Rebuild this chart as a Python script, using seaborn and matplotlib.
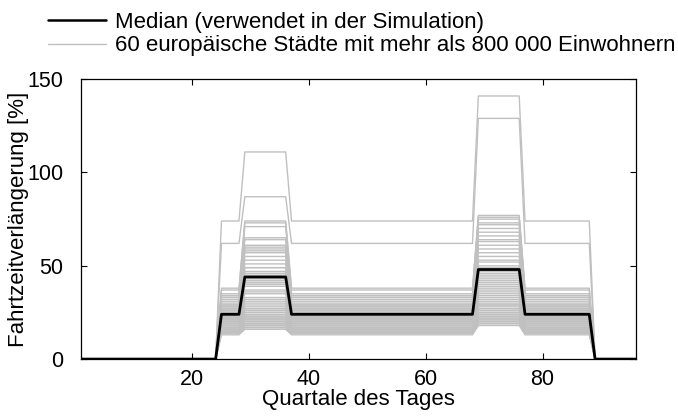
import numpy as np
import pandas as pd
import matplotlib
matplotlib.use("Agg")
import matplotlib.pyplot as plt
import seaborn as sns
from matplotlib.lines import Line2D

# Quarter-hours of the day
quarters = list(range(1, 97))

# Per-city congestion levels [%]: base level, morning peak, evening peak
city_base = [74, 62,
             38, 37, 35, 34, 34, 33, 32, 31, 30, 29, 29, 28, 28, 27, 27, 27, 26, 26,
             26, 25, 25, 25, 24, 24, 24, 24, 23, 23, 23, 22, 22, 22, 21, 21, 21, 20,
             20, 20, 19, 19, 19, 18, 18, 18, 17, 17, 17, 16, 16, 16, 16, 15, 15, 15,
             14, 14, 14, 13]
city_morning = [111, 87,
                74, 73, 71, 65, 64, 61, 60, 59, 58, 57, 55, 53, 51, 49, 49, 47, 46, 45,
                44, 43, 42, 41, 41, 40, 39, 37, 36, 35, 33, 32, 31, 30, 29, 28, 27, 27,
                26, 25, 25, 24, 23, 23, 22, 22, 21, 21, 20, 20, 19, 19, 19, 18, 18, 18,
                17, 17, 16, 16]
city_evening = [141, 129,
                77, 76, 75, 73, 72, 70, 68, 66, 64, 63, 61, 59, 57, 55, 53, 52, 50, 49,
                48, 47, 46, 45, 44, 43, 42, 41, 40, 39, 38, 37, 36, 35, 34, 33, 32, 31,
                30, 29, 29, 28, 27, 27, 26, 25, 25, 24, 24, 23, 23, 22, 22, 21, 21, 20,
                20, 19, 19, 18]

# Median profile used in the simulation
median_base = 24
median_morning = 44
median_evening = 48

# Time windows (quarter indices)
day_start, morning_start, morning_end = 25, 29, 36
evening_start, evening_end, day_end = 69, 76, 88


def profile(base, morning, evening):
    vals = []
    for q in quarters:
        if q < day_start or q > day_end:
            vals.append(0)
        elif morning_start <= q <= morning_end:
            vals.append(morning)
        elif evening_start <= q <= evening_end:
            vals.append(evening)
        else:
            vals.append(base)
    return vals


rows = []
for i, (b, m, e) in enumerate(zip(city_base, city_morning, city_evening)):
    for q, v in zip(quarters, profile(b, m, e)):
        rows.append({"city": i, "quarter": q, "value": v})
df = pd.DataFrame(rows)
med = pd.DataFrame({"quarter": quarters,
                    "value": profile(median_base, median_morning, median_evening)})

sns.set_theme(style="white")
plt.rcParams["font.family"] = ["Liberation Sans", "DejaVu Sans"]
plt.rcParams["text.color"] = "black"
plt.rcParams["axes.labelcolor"] = "black"

fig = plt.figure(figsize=(6.78, 4.19), dpi=100)
ax = fig.add_axes([0.12, 0.143, 0.818, 0.668])

sns.lineplot(data=df, x="quarter", y="value", units="city", estimator=None,
             color="#c0c0c0", linewidth=1.0, ax=ax, legend=False)
sns.lineplot(data=med, x="quarter", y="value", color="black", linewidth=2.0,
             ax=ax, legend=False)

ax.set_xlim(1, 96)
ax.set_ylim(0, 150)
ax.set_xticks([20, 40, 60, 80])
ax.set_yticks([0, 50, 100, 150])
ax.set_xlabel("Quartale des Tages", fontsize=16, labelpad=-1, color="black")
ax.set_ylabel("Fahrtzeitverlängerung [%]", fontsize=16, labelpad=-1.5, color="black")
ax.tick_params(axis="both", which="both", direction="in", length=4, width=0.8,
               labelsize=15.5, top=True, right=True, bottom=True, left=True,
               colors="black", labelcolor="black")
ax.tick_params(axis="x", pad=7.5)
ax.tick_params(axis="y", pad=13)
for sp in ax.spines.values():
    sp.set_visible(True)
    sp.set_color("black")
    sp.set_linewidth(0.9)

handles = [Line2D([], [], color="black", linewidth=1.8),
           Line2D([], [], color="#c0c0c0", linewidth=1.0)]
labels = ["Median (verwendet in der Simulation)",
          "60 europäische Städte mit mehr als 800 000 Einwohnern"]
fig.legend(handles, labels, loc="upper left", bbox_to_anchor=(0.058, 0.993),
           frameon=False, fontsize=16, handlelength=2.6, handletextpad=0.4,
           labelspacing=0.115, borderaxespad=0.0, labelcolor="black")

fig.savefig("out.png", dpi=100)
